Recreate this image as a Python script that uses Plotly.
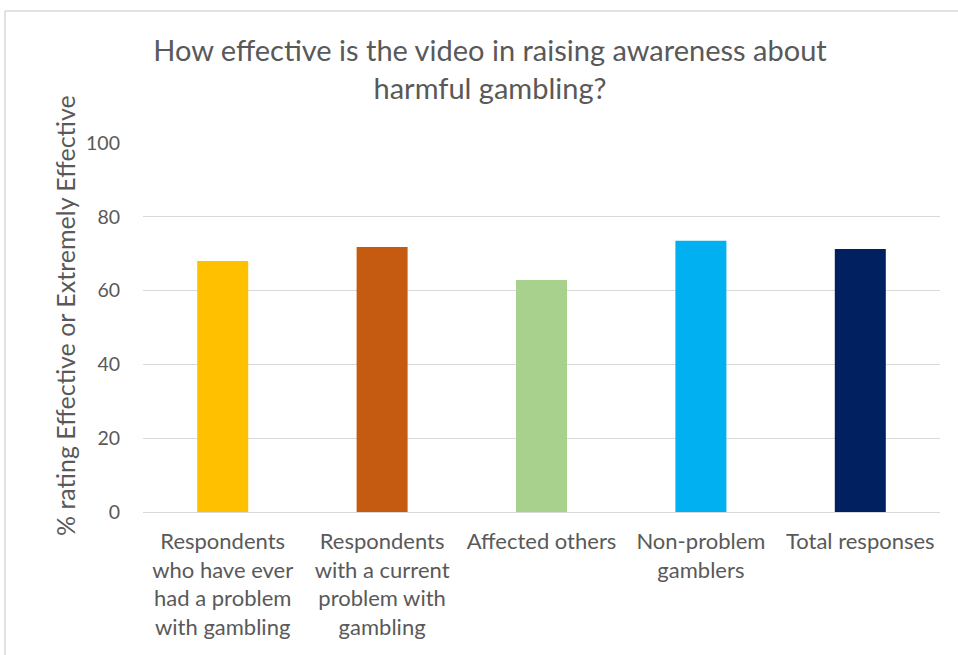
import plotly.graph_objects as go

categories = [
    "Respondents<br>who have ever<br>had a problem<br>with gambling",
    "Respondents<br>with a current<br>problem with<br>gambling",
    "Affected others",
    "Non-problem<br>gamblers",
    "Total responses",
]
values = [68.0, 71.8, 62.9, 73.5, 71.3]
colors = ["#FFC000", "#C55A11", "#A9D18E", "#00B0F0", "#002060"]
y_ticks = [0, 20, 40, 60, 80, 100]

W, H = 958, 655
L, R, T, B = 143, 18, 143, 143
pw, ph = W - L - R, H - T - B

fig = go.Figure(go.Bar(x=categories, y=values, marker=dict(color=colors, line=dict(width=0)), width=0.32))

FONT = "Lato"
GREY = "#595959"
fig.update_layout(
    width=W, height=H,
    margin=dict(l=L, r=R, t=T, b=B),
    paper_bgcolor="white", plot_bgcolor="white",
    font=dict(family=FONT, color=GREY, size=18),
    showlegend=False,
    title=dict(
        text="How effective is the video in raising awareness about<br>harmful gambling?",
        x=490 / W, xanchor="center", y=1 - 61 / H, yanchor="middle",
        font=dict(family=FONT, size=29, color=GREY),
    ),
    xaxis=dict(showgrid=False, showline=False, ticks="", ticklabelstandoff=14,
               tickfont=dict(size=22, color=GREY)),
    yaxis=dict(
        range=[0, 100], tickvals=y_ticks, showgrid=True, gridcolor="#d9d9d9", gridwidth=1,
        zeroline=True, zerolinecolor="#d9d9d9", zerolinewidth=1, showline=False, ticks="",
        ticklabelstandoff=22,
        tickfont=dict(size=19.5, color=GREY),
    ),
    bargap=0.68,
)

# y-axis title as a rotated annotation (positioned like the reference)
fig.add_annotation(
    text="% rating Effective or Extremely Effective", textangle=-90,
    xref="paper", yref="paper", x=(65 - L) / pw, y=(H - B - 316) / ph,
    xanchor="center", yanchor="middle", showarrow=False,
    font=dict(family=FONT, size=25, color=GREY),
)

# outer chart-area border (top and left edges visible)
x0 = (5 - L) / pw
y1 = (H - B - 11) / ph
fig.add_shape(type="line", xref="paper", yref="paper", x0=x0, x1=(W + 10 - L) / pw, y0=y1, y1=y1,
              line=dict(color="#d9d9d9", width=1.5))
fig.add_shape(type="line", xref="paper", yref="paper", x0=x0, x1=x0, y0=y1, y1=-(B + 10) / ph,
              line=dict(color="#d9d9d9", width=1.5))

fig.write_html("out.html")
